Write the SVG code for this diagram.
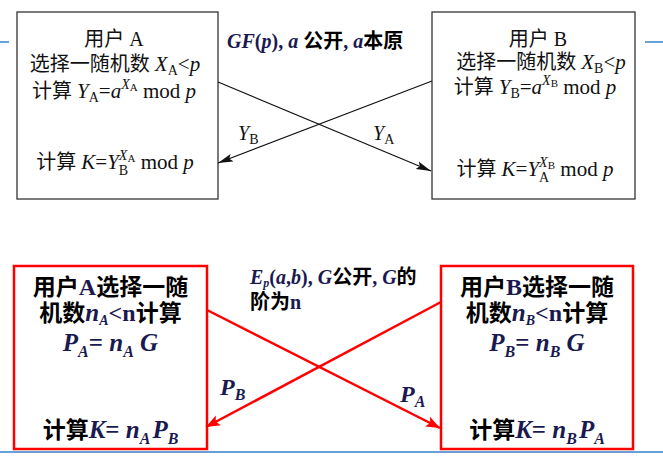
<svg xmlns="http://www.w3.org/2000/svg" width="663" height="460" viewBox="0 0 663 460">
<style>
.t{font-family:"Liberation Serif","Noto Sans CJK SC",serif;font-size:20px;fill:#111}
.b{font-family:"Liberation Serif","Noto Sans CJK SC",serif;font-weight:bold;fill:#000}
.i{font-style:italic}
.n{fill:#1a1a50}
.box{fill:#fff;stroke:#333;stroke-width:1.3}
.rbox{fill:#fff;stroke:#ff0000;stroke-width:2.5}
.bl{stroke:#6b9fd8;stroke-width:2}
.ln{stroke:#111;stroke-width:1.2;fill:none}
.rl{stroke:#ff0000;stroke-width:2.5;fill:none}
</style>
<defs>
<marker id="ah" markerUnits="userSpaceOnUse" markerWidth="16" markerHeight="10" refX="15" refY="5" orient="auto">
<path d="M0,1 L15,5 L0,9 L3,5 Z" fill="#111"/>
</marker>
<marker id="rh" markerUnits="userSpaceOnUse" markerWidth="16" markerHeight="12" refX="14" refY="6" orient="auto">
<path d="M0,0.5 L14,6 L0,11.5 L3,6 Z" fill="#ff0000"/>
</marker>
</defs>
<line class="bl" x1="0" y1="42" x2="9" y2="42"/>
<line class="bl" x1="645" y1="42" x2="663" y2="42"/>
<line class="bl" x1="0" y1="452" x2="663" y2="452"/>

<g id="userA">
<rect class="box" x="17" y="12" width="201" height="187"/>
<text class="t" x="114" y="46" text-anchor="middle">用户 A</text>
<text class="t" x="115" y="71" text-anchor="middle">选择一随机数 <tspan class="i" font-size="21">X</tspan><tspan font-size="14" dy="4">A</tspan><tspan dy="-4" font-size="21">&lt;</tspan><tspan class="i" font-size="21">p</tspan></text>
<text class="t" x="114" y="98" text-anchor="middle">计算 <tspan class="i" font-size="21">Y</tspan><tspan font-size="14" dy="4">A</tspan><tspan dy="-4" font-size="21">=</tspan><tspan class="i" font-size="21">a</tspan><tspan class="i" font-size="14" dy="-9">X</tspan><tspan font-size="11" dy="2">A</tspan><tspan dy="7" font-size="21"> mod </tspan><tspan class="i" font-size="21">p</tspan></text>
<text class="t" x="115" y="169" text-anchor="middle">计算 <tspan class="i" font-size="21">K</tspan><tspan font-size="21">=</tspan><tspan class="i" font-size="21">Y</tspan><tspan class="i" font-size="14" dy="-9">X</tspan><tspan font-size="11" dy="2">A</tspan><tspan font-size="14" dx="-16.5" dy="13">B</tspan><tspan dx="7.2" dy="-6" font-size="21"> mod </tspan><tspan class="i" font-size="21">p</tspan></text>
</g>

<g id="userB">
<rect class="box" x="432" y="12" width="203" height="187"/>
<text class="t" x="538" y="46" text-anchor="middle">用户 B</text>
<text class="t" x="541" y="69" text-anchor="middle">选择一随机数 <tspan class="i" font-size="21">X</tspan><tspan font-size="14" dy="4">B</tspan><tspan dy="-4" font-size="21">&lt;</tspan><tspan class="i" font-size="21">p</tspan></text>
<text class="t" x="535" y="94" text-anchor="middle">计算 <tspan class="i" font-size="21">Y</tspan><tspan font-size="14" dy="4">B</tspan><tspan dy="-4" font-size="21">=</tspan><tspan class="i" font-size="21">a</tspan><tspan class="i" font-size="14" dy="-9">X</tspan><tspan font-size="11" dy="2">B</tspan><tspan dy="7" font-size="21"> mod </tspan><tspan class="i" font-size="21">p</tspan></text>
<text class="t" x="535" y="176" text-anchor="middle">计算 <tspan class="i" font-size="21">K</tspan><tspan font-size="21">=</tspan><tspan class="i" font-size="21">Y</tspan><tspan class="i" font-size="14" dy="-9">X</tspan><tspan font-size="11" dy="2">B</tspan><tspan font-size="14" dx="-16" dy="13">A</tspan><tspan dx="6" dy="-6" font-size="21"> mod </tspan><tspan class="i" font-size="21">p</tspan></text>
</g>

<g id="gfLabel">
<text class="b" x="227" y="48" font-size="20"><tspan class="i n">GF</tspan><tspan class="n">(</tspan><tspan class="i n">p</tspan><tspan class="n">), </tspan><tspan class="i n">a</tspan> 公开<tspan class="n">, </tspan><tspan class="i n">a</tspan>本原</text>
</g>

<g id="ecUserA">
<rect class="rbox" x="14" y="266" width="193" height="183"/>
<text class="b" x="110.5" y="295" font-size="23" text-anchor="middle">用户<tspan class="n" font-size="24">A</tspan>选择一随</text>
<text class="b" x="110.5" y="321" font-size="23" text-anchor="middle">机数<tspan class="i n" font-size="25">n</tspan><tspan class="i n" font-size="14" dy="4">A</tspan><tspan class="n" dy="-4" font-size="24">&lt;n</tspan>计算</text>
<text class="b" x="110.5" y="351" font-size="25" text-anchor="middle"><tspan class="i n">P</tspan><tspan class="i n" font-size="16" dy="6">A</tspan><tspan class="n" dy="-6">= </tspan><tspan class="i n">n</tspan><tspan class="i n" font-size="16" dy="6">A</tspan><tspan class="i n" dy="-6"> G</tspan></text>
<text class="b" x="110.5" y="438" font-size="23" text-anchor="middle">计算<tspan class="i n" font-size="25">K</tspan><tspan class="n" font-size="25">= </tspan><tspan class="i n" font-size="25">n</tspan><tspan class="i n" font-size="16" dy="6">A</tspan><tspan class="i n" font-size="25" dx="2" dy="-6">P</tspan><tspan class="i n" font-size="16" dy="6">B</tspan></text>
</g>

<g id="ecUserB">
<rect class="rbox" x="441" y="266" width="192" height="183"/>
<text class="b" x="537" y="295" font-size="23" text-anchor="middle">用户<tspan class="n" font-size="24">B</tspan>选择一随</text>
<text class="b" x="537" y="321" font-size="23" text-anchor="middle">机数<tspan class="i n" font-size="25">n</tspan><tspan class="i n" font-size="14" dy="4">B</tspan><tspan class="n" dy="-4" font-size="24">&lt;n</tspan>计算</text>
<text class="b" x="537" y="351" font-size="25" text-anchor="middle"><tspan class="i n">P</tspan><tspan class="i n" font-size="16" dy="6">B</tspan><tspan class="n" dy="-6">= </tspan><tspan class="i n">n</tspan><tspan class="i n" font-size="16" dy="6">B</tspan><tspan class="i n" dy="-6"> G</tspan></text>
<text class="b" x="537" y="438" font-size="23" text-anchor="middle">计算<tspan class="i n" font-size="25">K</tspan><tspan class="n" font-size="25">= </tspan><tspan class="i n" font-size="25">n</tspan><tspan class="i n" font-size="16" dy="6">B</tspan><tspan class="i n" font-size="25" dx="2" dy="-6">P</tspan><tspan class="i n" font-size="16" dy="6">A</tspan></text>
</g>

<g id="ecLabel">
<text class="b" x="250" y="284" font-size="20"><tspan class="i n">E</tspan><tspan class="i n" font-size="12" dy="3">p</tspan><tspan class="n" dy="-3">(</tspan><tspan class="i n">a</tspan><tspan class="n">,</tspan><tspan class="i n">b</tspan><tspan class="n">), </tspan><tspan class="i n">G</tspan>公开<tspan class="n">, </tspan><tspan class="i n">G</tspan>的</text>
<text class="b" x="250" y="309" font-size="20">阶为<tspan class="n">n</tspan></text>
</g>

<g id="connectors">
<line class="ln" x1="218" y1="82" x2="431" y2="171" marker-end="url(#ah)"/>
<line class="ln" x1="432" y1="81" x2="218" y2="163" marker-end="url(#ah)"/>
<line class="rl" x1="207" y1="310" x2="440" y2="428" marker-end="url(#rh)"/>
<line class="rl" x1="441" y1="302" x2="206" y2="427" marker-end="url(#rh)"/>
<text class="t" x="238" y="140" font-size="19"><tspan class="i">Y</tspan><tspan font-size="14" dy="4">B</tspan></text>
<text class="t" x="373" y="140" font-size="19"><tspan class="i">Y</tspan><tspan font-size="14" dy="4">A</tspan></text>
<text class="b" x="220" y="395" font-size="24"><tspan class="i n">P</tspan><tspan class="i n" font-size="16" dy="5">B</tspan></text>
<text class="b" x="400" y="402" font-size="24"><tspan class="i n">P</tspan><tspan class="i n" font-size="16" dy="5">A</tspan></text>
</g>
</svg>
